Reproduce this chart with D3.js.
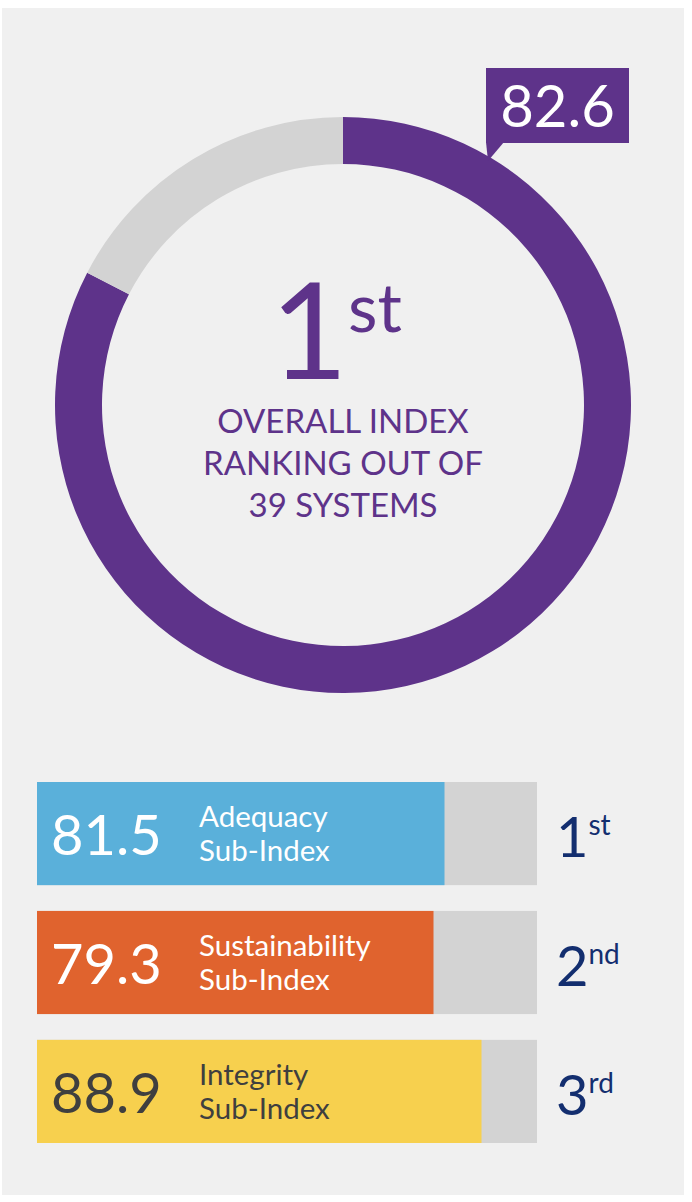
<!DOCTYPE html>
<html>
<head>
<meta charset="utf-8">
<script src="https://cdn.jsdelivr.net/npm/d3@7"></script>
<style>
  body { margin: 0; background: #fff; }
  text { font-family: Lato, "Open Sans", sans-serif; }
</style>
</head>
<body>
<div id="chart"></div>
<script>
// overall index
const overallScore = 82.6;
const overallRank = "1";
const overallSuffix = "st";
const overallLines = ["OVERALL INDEX", "RANKING OUT OF", "39 SYSTEMS"];

// sub-indices
const subNames = ["Adequacy", "Sustainability", "Integrity"];
const subValues = [81.5, 79.3, 88.9];
const subRanks = ["1", "2", "3"];
const subSuffix = ["st", "nd", "rd"];
const subColors = ["#5ab0da", "#e0632e", "#f7d04e"];
const subTextColors = ["#ffffff", "#ffffff", "#3f3f3f"];

const W = 692, H = 1202;
const purple = "#5e338a", grey = "#d3d3d3", navy = "#132e6f";

const svg = d3.select("#chart").append("svg")
    .attr("width", W)
    .attr("height", H);

// panel background
svg.append("rect")
    .attr("x", 2).attr("y", 8)
    .attr("width", 682).attr("height", 1187)
    .attr("fill", "#f0f0f0");

//donut
const cx = 343, cy = 405, rOuter = 288, rInner = 241;
const g = svg.append("g").attr("transform", `translate(${cx},${cy})`);

const pie = d3.pie().sort(null).value(d => d)([overallScore, 100 - overallScore]);
const arc = d3.arc().innerRadius(rInner).outerRadius(rOuter);

g.selectAll("path.slice")
    .data(pie)
    .enter()
    .append("path")
    .attr("class", "slice")
    .attr("fill", (d, i) => i === 0 ? purple : grey)
    .attr("d", arc);

// score callout box
const boxX = 143, boxY = -337, boxW = 143, boxH = 75;
g.append("path")
    .attr("fill", purple)
    .attr("d", `M${boxX},${boxY + boxH - 1} L${boxX + 18},${boxY + boxH - 1} L${boxX + 2},${boxY + boxH + 18} Z`);
g.append("rect")
    .attr("x", boxX).attr("y", boxY)
    .attr("width", boxW).attr("height", boxH)
    .attr("fill", purple);
g.append("text")
    .attr("x", boxX + boxW / 2)
    .attr("y", boxY + 59)
    .attr("text-anchor", "middle")
    .attr("fill", "#fff")
    .attr("font-size", 58)
    .text(d3.format(".1f")(overallScore));

// rank in the middle: number and suffix as two texts
g.append("text")
    .attr("x", 5)
    .attr("y", -26)
    .attr("text-anchor", "end")
    .attr("fill", purple)
    .attr("font-size", 134)
    .text(overallRank);
g.append("text")
    .attr("x", 5)
    .attr("y", -73)
    .attr("fill", purple)
    .attr("font-size", 68)
    .text(overallSuffix);

g.selectAll("text.line")
    .data(overallLines)
    .enter()
    .append("text")
    .attr("class", "line")
    .attr("x", 0)
    .attr("y", (d, i) => 28 + i * 42)
    .attr("text-anchor", "middle")
    .attr("fill", purple)
    .attr("font-size", 33)
    .text(d => d);

// sub-index bars
const x = d3.scaleLinear().domain([0, 100]).range([37, 537]);
const y = d3.scaleBand().domain(subNames).range([782, 1143]).paddingInner(0.2).paddingOuter(0);

const rows = svg.selectAll("g.row")
    .data(subNames)
    .enter()
    .append("g")
    .attr("class", "row")
    .attr("transform", d => `translate(0,${y(d)})`);

rows.append("rect")
    .attr("x", x(0))
    .attr("width", x(100) - x(0))
    .attr("height", y.bandwidth())
    .attr("fill", grey);

rows.append("rect")
    .attr("x", x(0))
    .attr("width", (d, i) => x(subValues[i]) - x(0))
    .attr("height", y.bandwidth())
    .attr("fill", (d, i) => subColors[i]);

rows.append("text")
    .attr("x", 51)
    .attr("y", 73)
    .attr("font-size", 56)
    .attr("fill", (d, i) => subTextColors[i])
    .text((d, i) => d3.format(".1f")(subValues[i]));

const lab = rows.append("text")
    .attr("font-size", 29.5)
    .attr("fill", (d, i) => subTextColors[i]);
lab.append("tspan").attr("x", 199).attr("y", 45).text(d => d);
lab.append("tspan").attr("x", 199).attr("y", 79).text("Sub-Index");

const rk = rows.append("text")
    .attr("x", 556)
    .attr("y", 75)
    .attr("fill", navy);
rk.append("tspan").attr("font-size", 56).text((d, i) => subRanks[i]);
rk.append("tspan").attr("font-size", 28).attr("dy", -22).text((d, i) => subSuffix[i]);
</script>
</body>
</html>
